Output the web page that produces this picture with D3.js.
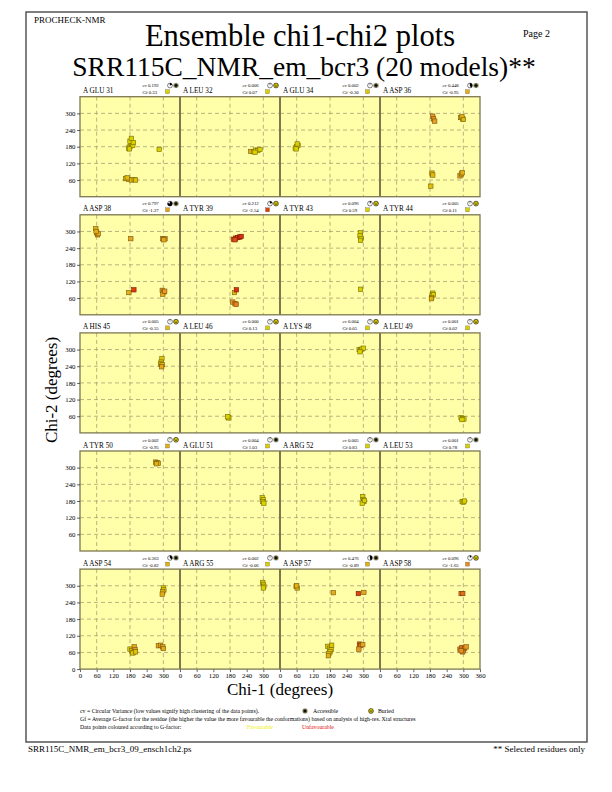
<!DOCTYPE html>
<html>
<head>
<meta charset="utf-8">
<script src="https://cdn.jsdelivr.net/npm/d3@7"></script>
<style>
  body { margin: 0; background: #fff; }
</style>
</head>
<body>
<div id="chart"></div>
<script>
// residues shown on this page, 4 per row
var residues = ["A GLU 31", "A LEU 32", "A GLU 34", "A ASP 36",
                "A ASP 38", "A TYR 39", "A TYR 43", "A TYR 44",
                "A HIS 45", "A LEU 46", "A LYS 48", "A LEU 49",
                "A TYR 50", "A GLU 51", "A ARG 52", "A LEU 53",
                "A ASP 54", "A ARG 55", "A ASP 57", "A ASP 58"];
var cvLabels = ["0.192", "0.006", "0.002", "0.448",
                "0.797", "0.212", "0.096", "0.005",
                "0.005", "0.000", "0.004", "0.001",
                "0.002", "0.004", "0.005", "0.001",
                "0.363", "0.002", "0.476", "0.096"];
var gfLabels = ["0.33", "0.07", "-0.30", "-0.95",
                "-1.27", "-2.54", "0.59", "0.11",
                "-0.55", "0.13", "0.05", "0.02",
                "-0.95", "1.03", "0.83", "0.78",
                "-0.82", "-0.06", "-0.89", "-1.65"];
var accessible = [true, false, true, true,
                  true, false, false, false,
                  false, false, false, false,
                  false, true, true, true,
                  true, true, true, false];
// [chi1, chi2, g-factor] per model
var chiPoints = [
  [[180,180,0.4],[185,190,0.4],[175,175,0.3],[190,185,0.4],[180,200,0.3],[185,210,0.2],[178,172,0.4],[192,195,0.3],
   [285,170,0.2],[165,65,-0.8],[175,62,-0.7],[185,60,-0.6],[195,62,-0.7],[170,68,-0.6],[200,60,-0.5]],
  [[255,163,-1.0],[265,162,0.0],[272,168,0.1],[280,166,0.1],[288,170,0.2],[270,160,0.0]],
  [[60,180,0.0],[65,185,-0.1],[55,175,0.0],[62,190,-0.1],[58,172,0.0]],
  [[190,290,-1.5],[193,280,-1.6],[197,272,-1.4],[290,285,-0.8],[298,280,-0.7],[295,288,-0.9],[300,278,-0.6],
   [187,85,-0.7],[190,78,-0.6],[288,75,-1.2],[293,82,-1.1],[296,86,-1.0],[183,38,-0.5]],
  [[57,310,-1.0],[60,295,-1.1],[63,288,-1.3],[66,292,-1.2],[58,300,-1.0],[183,274,-1.2],[298,274,-1.3],[306,274,-1.4],[302,270,-1.2],
   [176,80,-0.9],[194,90,-2.6],[296,88,-1.4],[302,82,-1.2],[298,74,-1.1],[305,85,-1.5]],
  [[192,272,-2.3],[200,276,-2.6],[208,278,-2.7],[215,280,-2.8],[220,282,-2.7],[198,270,-2.4],
   [196,80,-0.8],[203,90,-2.7],[190,46,-1.5],[198,40,-1.6],[202,38,-1.8]],
  [[290,295,0.5],[288,285,0.5],[292,275,0.6],[290,268,0.5],[290,92,0.4]],
  [[190,78,0.2],[188,70,0.1],[192,72,0.1],[186,62,-0.3],[185,58,-0.9]],
  [[295,268,-0.3],[292,255,-0.4],[290,248,-0.5],[296,245,-0.6],[294,238,-1.2]],
  [[174,56,0.1],[176,54,0.1],[172,58,0.2]],
  [[285,300,0.1],[290,298,0.0],[295,302,0.1],[300,305,0.0],[288,292,0.0]],
  [[292,55,0.0],[297,52,0.0],[302,50,0.1],[295,48,0.0]],
  [[272,320,-1.0],[278,318,-0.9],[282,316,-1.0],[275,314,-0.9]],
  [[296,192,1.0],[300,185,1.0],[298,178,1.0],[302,172,1.0]],
  [[298,195,0.8],[300,185,0.8],[302,178,0.8],[296,172,0.9],[304,182,0.8]],
  [[296,178,0.8],[300,176,0.8],[304,180,0.7]],
  [[300,292,-0.2],[302,285,-0.3],[298,278,-0.8],[296,270,-1.0],
   [180,72,-0.2],[186,66,-0.3],[192,60,-0.2],[195,80,-1.2],[198,70,-1.4],[190,58,-0.3],[200,62,-0.4],
   [282,84,-1.2],[290,86,-1.3],[298,80,-1.2],[300,74,-1.1]],
  [[298,312,-0.1],[300,305,0.0],[302,298,-0.1],[300,292,0.0]],
  [[58,298,-0.9],[62,292,-0.8],[60,300,-0.9],[192,275,-1.0],[282,272,-2.5],[302,276,-1.1],
   [172,82,-0.3],[178,75,-0.2],[184,70,-0.4],[180,62,-0.2],[176,55,-0.6],[186,86,-0.3],[174,48,-0.9],
   [286,90,-2.2],[290,85,-2.0],[298,88,-1.2],[284,72,-1.5]],
  [[292,272,-1.8],[298,272,-2.0],[288,72,-1.6],[295,78,-1.9],[300,68,-1.7],[305,75,-1.8],[310,80,-1.5],[298,62,-1.7],[292,66,-1.6]]
];
var yTicks = [60, 120, 180, 240, 300];
var xTicks = [0, 60, 120, 180, 240, 300];

var SERIF = "'Liberation Serif', 'Times New Roman', Times, serif";

function drawPage() {
  var gridLeft = 80, panelW = 100, panelH = 100, firstTop = 96.7, rowStep = 118.1;

  var svg = d3.select("#chart").append("svg")
      .attr("width", 612).attr("height", 792)
      .attr("font-family", SERIF);

  var gColor = d3.scaleLinear()
      .domain([-3, -1.5, 0])
      .range(["#d81808", "#e89a20", "#dcd000"])
      .clamp(true);

  function starIcon(g) {
    g.append("circle").attr("r", 1.8).attr("fill", "#f0e000");
    g.selectAll("line").data(d3.range(0, 180, 22.5)).enter().append("line")
      .attr("x1", function(a) { return 2.6 * Math.cos(a * Math.PI / 180); })
      .attr("y1", function(a) { return 2.6 * Math.sin(a * Math.PI / 180); })
      .attr("x2", function(a) { return -2.6 * Math.cos(a * Math.PI / 180); })
      .attr("y2", function(a) { return -2.6 * Math.sin(a * Math.PI / 180); })
      .attr("stroke", "#000").attr("stroke-width", 0.55);
  }
  function buriedIcon(g) {
    g.append("circle").attr("r", 2.4)
      .attr("fill", "#f0e000").attr("stroke", "#000").attr("stroke-width", 0.6);
    g.append("path").attr("d", "M-1,-1.2 L-1,0.5 Q0,1.6 1,0.5 L1,-1.2")
      .attr("fill", "none").attr("stroke", "#000").attr("stroke-width", 0.5);
  }

  // page frame and headings
  svg.append("rect").attr("x", 26).attr("y", 12).attr("width", 561).attr("height", 730)
      .attr("fill", "none").attr("stroke", "#555").attr("stroke-width", 1.5);
  svg.append("text").attr("x", 34).attr("y", 23).attr("font-size", 9).text("PROCHECK-NMR");
  svg.append("text").attr("x", 523).attr("y", 37).attr("font-size", 10).text("Page  2");
  svg.append("text").attr("x", 300).attr("y", 46).attr("text-anchor", "middle")
      .attr("font-size", 30.5).text("Ensemble chi1-chi2 plots");
  svg.append("text").attr("x", 304).attr("y", 76).attr("text-anchor", "middle")
      .attr("font-size", 27.5).text("SRR115C_NMR_em_bcr3 (20 models)**");

  var nRows = residues.length / 4;
  for (var r = 0; r < nRows; r++) {
    var rowTop = firstTop + r * rowStep;
    var y = d3.scaleLinear().domain([0, 360]).range([rowTop + panelH, rowTop]);
    var row = svg.append("g");

    row.append("rect").attr("x", gridLeft).attr("y", rowTop)
        .attr("width", panelW * 4).attr("height", panelH)
        .attr("fill", "#ffffaa");

    for (var c = 0; c < 4; c++) {
      var idx = r * 4 + c;
      var left = gridLeft + c * panelW;
      var x = d3.scaleLinear().domain([0, 360]).range([left, left + panelW]);

      // dashed grid
      row.append("g").selectAll("line").data(yTicks).enter().append("line")
        .attr("x1", left).attr("x2", left + panelW)
        .attr("y1", function(d) { return y(d); }).attr("y2", function(d) { return y(d); })
        .attr("stroke", "#a8a070").attr("stroke-width", 0.8).attr("stroke-dasharray", "4,3");
      row.append("g").selectAll("line").data([60, 180, 300]).enter().append("line")
        .attr("y1", rowTop).attr("y2", rowTop + panelH)
        .attr("x1", function(d) { return x(d); }).attr("x2", function(d) { return x(d); })
        .attr("stroke", "#a8a070").attr("stroke-width", 0.8).attr("stroke-dasharray", "4,3");

      // the points
      row.append("g").selectAll("rect").data(chiPoints[idx]).enter().append("rect")
        .attr("x", function(d) { return x(d[0]) - 2.2; })
        .attr("y", function(d) { return y(d[1]) - 2.2; })
        .attr("width", 4.4).attr("height", 4.4)
        .attr("fill", function(d) { return gColor(d[2]); })
        .attr("stroke", function(d) { return d3.color(gColor(d[2])).darker(1.8); })
        .attr("stroke-width", 0.6);

      // header: residue, cv, gf
      row.append("text").attr("x", left + 3).attr("y", rowTop - 3.5)
        .attr("font-size", 7.2).text(residues[idx]);
      var cvt = row.append("text").attr("x", left + 62.5).attr("y", rowTop - 9.5).attr("font-size", 4.8);
      cvt.append("tspan").attr("font-style", "italic").text("cv");
      cvt.append("tspan").text(" " + cvLabels[idx]);
      row.append("text").attr("x", left + 62.5).attr("y", rowTop - 2.5).attr("font-size", 4.8)
        .text("Gf " + gfLabels[idx]);
      row.append("rect").attr("x", left + 85.5).attr("y", rowTop - 7).attr("width", 4).attr("height", 4)
        .attr("fill", gColor(+gfLabels[idx])).attr("stroke", "#555").attr("stroke-width", 0.3);

      // circular variance pie
      var pcx = left + 90, pcy = rowTop - 11.2, pr = 2.4;
      row.append("circle").attr("cx", pcx).attr("cy", pcy).attr("r", pr)
        .attr("fill", "#fff").attr("stroke", "#000").attr("stroke-width", 0.5);
      row.append("path").attr("transform", "translate(" + pcx + "," + pcy + ")")
        .attr("d", d3.arc().innerRadius(0).outerRadius(pr)
          .startAngle(0).endAngle(2 * Math.PI * (+cvLabels[idx]))())
        .attr("fill", "#000");
      row.append("line").attr("x1", pcx).attr("y1", pcy).attr("x2", pcx).attr("y2", pcy - pr)
        .attr("stroke", "#000").attr("stroke-width", 0.4);

      // accessibility icon
      var icon = row.append("g").attr("transform", "translate(" + (left + 96) + "," + (rowTop - 11.2) + ")");
      if (accessible[idx]) starIcon(icon); else buriedIcon(icon);

      // bottom axis on last row
      if (r === nRows - 1) {
        var bt = (c === 3) ? xTicks.concat([360]) : xTicks;
        var xa = row.append("g").attr("transform", "translate(0," + (rowTop + panelH) + ")")
          .call(d3.axisBottom(x).tickValues(bt).tickSize(3).tickPadding(1.5).tickFormat(d3.format("d")));
        xa.attr("font-family", SERIF);
        xa.select(".domain").remove();
        xa.selectAll("text").attr("font-size", 6.8);
        xa.selectAll("line").attr("stroke-width", 0.6);
      }
    }

    // row frame and dividers
    row.append("rect").attr("x", gridLeft).attr("y", rowTop)
        .attr("width", panelW * 4).attr("height", panelH)
        .attr("fill", "none").attr("stroke", "#7d7850").attr("stroke-width", 1.3);
    row.append("g").selectAll("line").data([1, 2, 3]).enter().append("line")
        .attr("x1", function(d) { return gridLeft + d * panelW; })
        .attr("x2", function(d) { return gridLeft + d * panelW; })
        .attr("y1", rowTop).attr("y2", rowTop + panelH)
        .attr("stroke", "#7d7850").attr("stroke-width", 2);

    var lt = (r === nRows - 1) ? [0].concat(yTicks) : yTicks;
    var ya = row.append("g").attr("transform", "translate(" + gridLeft + ",0)")
      .call(d3.axisLeft(y).tickValues(lt).tickSize(3).tickPadding(1.5).tickFormat(d3.format("d")));
    ya.attr("font-family", SERIF);
    ya.select(".domain").remove();
    ya.selectAll("text").attr("font-size", 6.8);
    ya.selectAll("line").attr("stroke-width", 0.6);
  }

  // axis titles
  svg.append("text").attr("transform", "translate(57,390) rotate(-90)")
      .attr("text-anchor", "middle").attr("font-size", 17).text("Chi-2 (degrees)");
  svg.append("text").attr("x", 280).attr("y", 695).attr("text-anchor", "middle")
      .attr("font-size", 17).text("Chi-1 (degrees)");

  // key
  svg.append("text").attr("x", 80).attr("y", 713).attr("font-size", 5.8)
      .text("cv = Circular Variance (low values signify high clustering of the data points).");
  starIcon(svg.append("g").attr("transform", "translate(305,711)"));
  svg.append("text").attr("x", 313).attr("y", 713).attr("font-size", 5.8).text("Accessible");
  buriedIcon(svg.append("g").attr("transform", "translate(371,711)"));
  svg.append("text").attr("x", 378).attr("y", 713).attr("font-size", 5.8).text("Buried");
  svg.append("text").attr("x", 80).attr("y", 721).attr("font-size", 5.8)
      .text("Gf = Average G-factor for the residue (the higher the value the more favourable the conformations)  based on analysis of high-res. Xtal structures");
  svg.append("text").attr("x", 80).attr("y", 729).attr("font-size", 5.8)
      .text("Data points coloured according to G-factor:");
  svg.append("text").attr("x", 247).attr("y", 729).attr("font-size", 5.8)
      .attr("fill", "#f0f000").text("Favourable");
  svg.append("text").attr("x", 302).attr("y", 729).attr("font-size", 5.8)
      .attr("fill", "#e01010").text("Unfavourable");

  // footer
  svg.append("text").attr("x", 28).attr("y", 752).attr("font-size", 9)
      .text("SRR115C_NMR_em_bcr3_09_ensch1ch2.ps");
  svg.append("text").attr("x", 585).attr("y", 752).attr("text-anchor", "end").attr("font-size", 9)
      .text("** Selected residues only");
}
drawPage();
</script>
</body>
</html>
